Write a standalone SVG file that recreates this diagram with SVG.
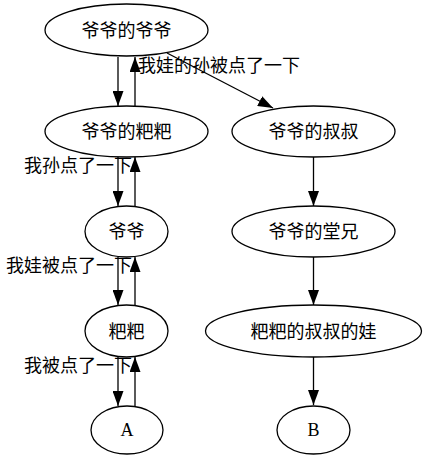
<svg xmlns="http://www.w3.org/2000/svg" width="426" height="459" viewBox="0 0 426 459">
<style>
.n ellipse{fill:none;stroke:#000;stroke-width:1.3}
text{font-family:"Liberation Serif","Noto Sans CJK SC",serif;font-size:18px;fill:#000}
.c{text-anchor:middle}
.e line{stroke:#000;stroke-width:1.3;marker-end:url(#ah)}
.l{text-anchor:end}
</style>
<defs>
<marker id="ah" markerUnits="userSpaceOnUse" markerWidth="15" markerHeight="11" refX="15" refY="5.5" orient="auto">
<path d="M0,0 L15,5.5 L0,11 z" fill="#000"/>
</marker>
</defs>
<rect width="426" height="459" fill="#fff"/>
<g id="connectors" class="e">
<line x1="118" y1="57" x2="118" y2="106"/>
<line x1="135" y1="106" x2="135" y2="57"/>
<line x1="167" y1="53" x2="273" y2="108"/>
<line x1="118" y1="157" x2="118" y2="206"/>
<line x1="135" y1="206" x2="135" y2="157"/>
<line x1="118" y1="257" x2="118" y2="305"/>
<line x1="135" y1="305" x2="135" y2="257"/>
<line x1="118" y1="357" x2="118" y2="406"/>
<line x1="135" y1="406" x2="135" y2="357"/>
<line x1="313.5" y1="157" x2="313.5" y2="206"/>
<line x1="313.5" y1="257" x2="313.5" y2="305"/>
<line x1="313.5" y1="357" x2="313.5" y2="405"/>
</g>
<g id="edge-labels">
<text x="138" y="72">我娃的孙被点了一下</text>
<text class="l" x="132" y="172">我孙点了一下</text>
<text class="l" x="132" y="272">我娃被点了一下</text>
<text class="l" x="132" y="372">我被点了一下</text>
</g>
<g id="n1" class="n"><ellipse cx="126.5" cy="30" rx="81.5" ry="26"/><text class="c" x="126.5" y="37">爷爷的爷爷</text></g>
<g id="n2" class="n"><ellipse cx="126.5" cy="131.5" rx="81.5" ry="25.5"/><text class="c" x="126.5" y="138">爷爷的粑粑</text></g>
<g id="n3" class="n"><ellipse cx="313.5" cy="131.5" rx="81.5" ry="25.5"/><text class="c" x="313.5" y="138">爷爷的叔叔</text></g>
<g id="n4" class="n"><ellipse cx="126.5" cy="231.5" rx="41.5" ry="25.5"/><text class="c" x="126.5" y="238">爷爷</text></g>
<g id="n5" class="n"><ellipse cx="313.5" cy="231.5" rx="81.5" ry="25.5"/><text class="c" x="313.5" y="238">爷爷的堂兄</text></g>
<g id="n6" class="n"><ellipse cx="126.5" cy="331" rx="41.5" ry="26"/><text class="c" x="126.5" y="338">粑粑</text></g>
<g id="n7" class="n"><ellipse cx="313.5" cy="331" rx="108" ry="26"/><text class="c" x="313.5" y="338">粑粑的叔叔的娃</text></g>
<g id="n8" class="n"><ellipse cx="127" cy="430" rx="36" ry="24"/><text class="c" x="127" y="436">A</text></g>
<g id="n9" class="n"><ellipse cx="313.5" cy="430" rx="36.5" ry="24"/><text class="c" x="313.5" y="436">B</text></g>
</svg>
